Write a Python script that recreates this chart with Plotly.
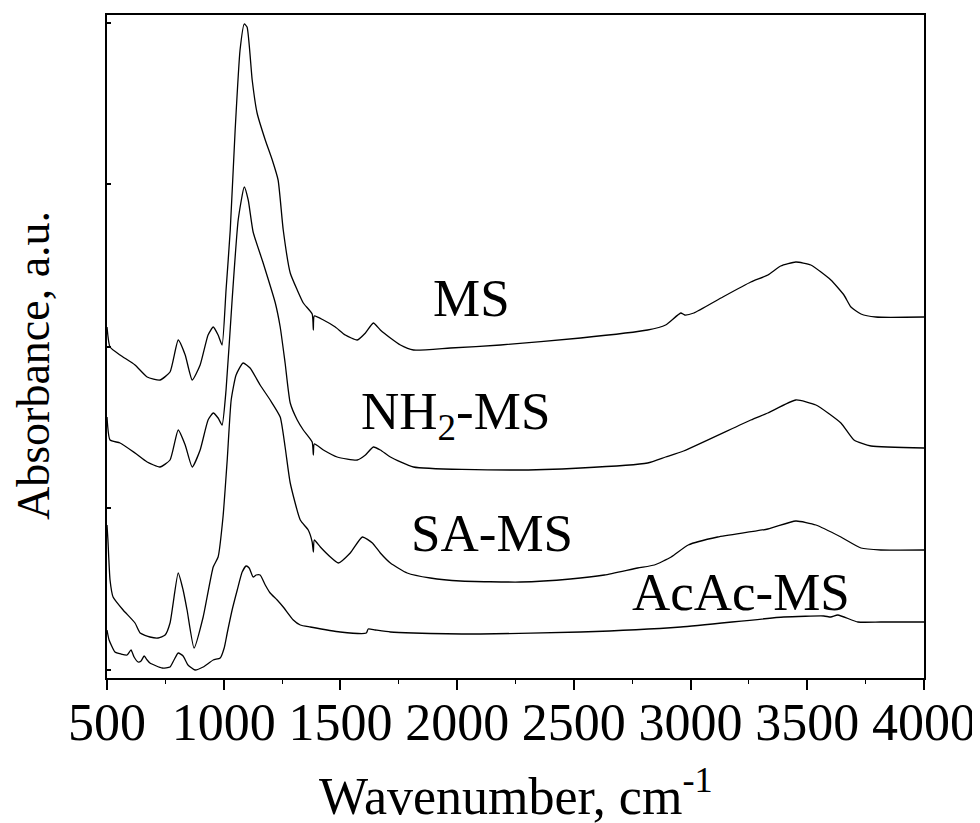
import plotly.graph_objects as go

# Wavenumber (cm-1) and absorbance (offset, a.u.)
ms_x = [500, 513, 556, 620, 672, 727, 770, 805, 835, 865, 899, 933, 955, 976, 993, 1010, 1028, 1049, 1070, 1088,
        1100, 1122, 1143, 1178, 1208, 1233, 1255, 1285, 1315, 1341, 1379, 1384, 1388, 1427, 1478, 1521, 1572,
        1607, 1641, 1671, 1714, 1757, 1813, 1971, 2186, 2529, 2816, 2893, 2958, 2975, 3014, 3130, 3258, 3331,
        3386, 3451, 3515, 3601, 3657, 3687, 3730, 3794, 4000]
ms_y = [3.51, 3.31, 3.23, 3.13, 3.01, 2.98, 3.06, 3.38, 3.23, 2.98, 3.13, 3.43, 3.51, 3.43, 3.33, 3.88, 4.48, 5.48,
        6.28, 6.54, 6.51, 5.98, 5.65, 5.38, 5.18, 4.98, 4.48, 4.05, 3.88, 3.75, 3.64, 3.48, 3.62, 3.58, 3.51, 3.43,
        3.38, 3.45, 3.55, 3.48, 3.40, 3.33, 3.28, 3.30, 3.33, 3.40, 3.48, 3.53, 3.65, 3.63, 3.65, 3.80, 3.96, 4.03,
        4.12, 4.16, 4.13, 3.98, 3.83, 3.71, 3.64, 3.61, 3.61]

nh2_x = [500, 513, 556, 620, 672, 727, 770, 805, 835, 865, 899, 933, 955, 976, 993, 1010, 1036, 1062, 1088, 1105,
         1126, 1169, 1221, 1242, 1263, 1285, 1315, 1341, 1379, 1384, 1388, 1427, 1486, 1572, 1607, 1641, 1671,
         1714, 1813, 2241, 2529, 2816, 2893, 2970, 3258, 3331, 3451, 3537, 3644, 3700, 3773, 4000]
nh2_y = [2.61, 2.38, 2.35, 2.25, 2.16, 2.11, 2.18, 2.48, 2.33, 2.11, 2.28, 2.58, 2.65, 2.60, 2.53, 2.88, 3.78, 4.58,
         4.91, 4.78, 4.46, 4.15, 3.75, 3.51, 3.15, 2.75, 2.58, 2.48, 2.36, 2.23, 2.34, 2.28, 2.21, 2.18, 2.23, 2.31,
         2.28, 2.21, 2.11, 2.08, 2.10, 2.15, 2.21, 2.27, 2.58, 2.65, 2.78, 2.73, 2.55, 2.38, 2.32, 2.30]

sa_x = [500, 504, 513, 526, 569, 620, 642, 684, 719, 749, 770, 805, 826, 843, 873, 912, 955, 976, 997, 1015, 1032,
        1053, 1083, 1113, 1156, 1199, 1242, 1263, 1285, 1328, 1362, 1379, 1384, 1388, 1414, 1457, 1491, 1542, 1594,
        1637, 1671, 1714, 1786, 1885, 2014, 2271, 2485, 2631, 2773, 2845, 2917, 2990, 3116, 3331, 3451, 3537, 3644,
        3730, 3815, 4000]
sa_y = [1.53, 1.38, 0.98, 0.81, 0.68, 0.55, 0.45, 0.41, 0.40, 0.43, 0.55, 1.05, 0.88, 0.68, 0.30, 0.61, 1.11, 1.21,
        1.61, 2.18, 2.78, 3.03, 3.15, 3.10, 2.93, 2.78, 2.61, 2.31, 1.95, 1.58, 1.48, 1.36, 1.26, 1.38, 1.31, 1.21,
        1.15, 1.25, 1.41, 1.35, 1.25, 1.15, 1.05, 1.00, 0.97, 0.96, 0.99, 1.03, 1.10, 1.13, 1.21, 1.33, 1.41, 1.49,
        1.57, 1.53, 1.41, 1.30, 1.28, 1.28]

acac_x = [500, 509, 534, 560, 586, 603, 616, 633, 646, 659, 672, 684, 736, 770, 787, 805, 826, 847, 877, 912, 955,
          985, 1002, 1015, 1036, 1058, 1079, 1096, 1109, 1126, 1139, 1156, 1178, 1199, 1229, 1255, 1298, 1328, 1371,
          1499, 1611, 1619, 1649, 1714, 1812, 2100, 2529, 2958, 3399, 3571, 3601, 3631, 3717, 3815, 4000]
acac_y = [0.48, 0.38, 0.26, 0.24, 0.23, 0.28, 0.21, 0.16, 0.17, 0.22, 0.18, 0.15, 0.10, 0.11, 0.18, 0.25, 0.22, 0.13,
          0.08, 0.11, 0.18, 0.20, 0.30, 0.45, 0.68, 0.88, 1.06, 1.12, 1.10, 1.01, 1.03, 1.03, 0.93, 0.85, 0.78, 0.71,
          0.58, 0.53, 0.51, 0.46, 0.45, 0.49, 0.48, 0.46, 0.45, 0.44, 0.46, 0.51, 0.61, 0.62, 0.61, 0.63, 0.56, 0.56,
          0.56]

series = [("MS", ms_x, ms_y), ("NH2-MS", nh2_x, nh2_y), ("SA-MS", sa_x, sa_y), ("AcAc-MS", acac_x, acac_y)]

label_text = ["MS", "NH<sub>2</sub>-MS", "SA-MS", "AcAc-MS"]
label_x = [2060, 1992, 2150, 3215]
label_y = [3.80, 2.63, 1.45, 0.86]

y_tickvals = [0.08, 1.70, 3.31, 4.94, 6.55]

FONT = "Liberation Serif, Times New Roman, serif"

fig = go.Figure()
for name, xs, ys in series:
    fig.add_trace(go.Scatter(x=xs, y=ys, mode="lines", name=name,
                             line=dict(color="black", width=1.3, shape="spline", smoothing=0.5),
                             showlegend=False))

for t, x, y in zip(label_text, label_x, label_y):
    fig.add_annotation(x=x, y=y, text=t, showarrow=False,
                       font=dict(family=FONT, size=53, color="black"),
                       xanchor="center", yanchor="middle")

# axis titles as text placed where the reference has them
fig.add_annotation(xref="paper", yref="paper", x=(33 - 107) / 817, y=(678 - 366) / 663,
                   text="Absorbance, a.u.", textangle=-90, showarrow=False,
                   font=dict(family=FONT, size=46, color="black"),
                   xanchor="center", yanchor="middle")
fig.add_annotation(xref="paper", yref="paper", x=0.5, y=(678 - 792) / 663,
                   text="Wavenumber, cm<sup>-1</sup>", showarrow=False,
                   font=dict(family=FONT, size=52, color="black"),
                   xanchor="center", yanchor="middle")

# the page body has an 8px margin, so the figure is sized to fit inside the 980x823 window
fig.update_layout(
    width=972, height=815,
    margin=dict(l=99, r=56, t=7, b=145),
    paper_bgcolor="white", plot_bgcolor="white",
    font=dict(family=FONT, color="black"),
)
fig.update_xaxes(
    range=[500, 4000], tickmode="linear", tick0=500, dtick=500,
    ticks="outside", ticklen=10, tickwidth=2, tickcolor="black",
    tickfont=dict(family=FONT, size=52, color="black"), ticklabelstandoff=-12,
    minor=dict(tickmode="linear", tick0=500, dtick=250, ticks="outside", ticklen=4, tickwidth=1, tickcolor="black"),
    showline=True, linewidth=2, linecolor="black", mirror=True, showgrid=False, zeroline=False,
    automargin=False,
)
fig.update_yaxes(
    range=[0, 6.63], tickvals=y_tickvals, ticktext=[""] * len(y_tickvals),
    ticks="inside", ticklen=4, tickwidth=2, tickcolor="black",
    showline=True, linewidth=2, linecolor="black", mirror=True, showgrid=False, zeroline=False,
    automargin=False,
)

fig.write_html("out.html")
